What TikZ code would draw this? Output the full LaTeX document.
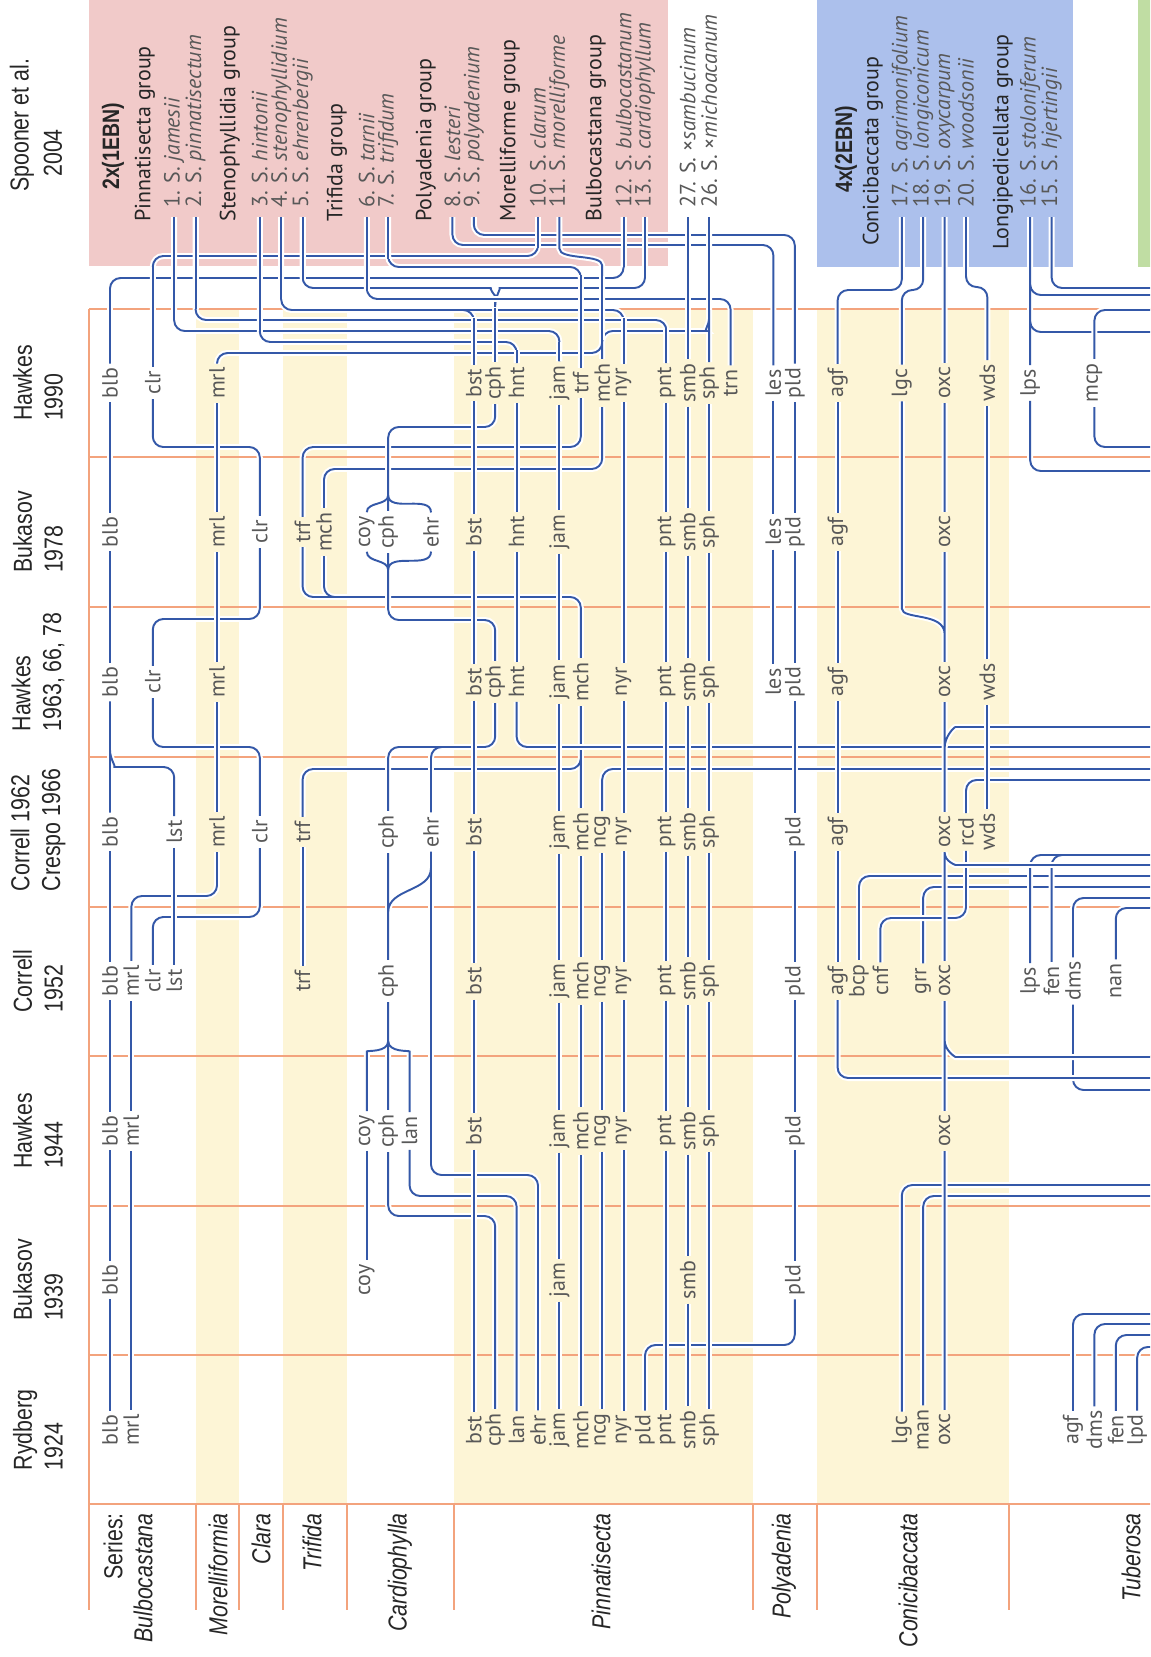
\documentclass[tikz,border=0pt]{standalone}
\usepackage{fontspec}
\setmainfont{PT Sans}
\newfontfamily\condfont[FakeStretch=0.82]{Liberation Sans}
\usetikzlibrary{calc}

\definecolor{linkblue}{RGB}{52,88,168}
\definecolor{rulecol}{RGB}{243,163,125}
\definecolor{bandfill}{RGB}{253,245,214}
\definecolor{pinkbox}{RGB}{241,202,201}
\definecolor{bluebox}{RGB}{172,192,236}
\definecolor{greenbox}{RGB}{192,221,163}
\definecolor{labgrey}{RGB}{88,88,88}
\definecolor{inkdark}{RGB}{38,38,38}

\newcommand{\xs}[1]{110+21.4*#1}
\newcommand{\labfont}{\fontsize{12.5}{14}\selectfont}
\newcommand{\headfont}{\condfont\fontsize{14.8}{17.5}\selectfont}

\begin{document}
\begin{tikzpicture}[x=0.02cm, y=-0.02cm,
    lab/.style={rotate=90, font=\labfont, text=labgrey, inner xsep=2.2pt, inner ysep=0.5pt},
    head/.style={rotate=90, font=\headfont, text=inkdark, align=left, inner sep=0pt},
    series/.style={rotate=90, font=\headfont\itshape, text=inkdark, anchor=east, inner sep=0pt},
    item/.style={rotate=90, font=\labfont, text=labgrey, anchor=west, inner xsep=5pt, inner ysep=0pt},
    grp/.style={rotate=90, font=\labfont, text=inkdark, anchor=west, inner sep=0pt},
    ebn/.style={rotate=90, font=\condfont\bfseries\fontsize{13.5}{16}\selectfont, text=inkdark, anchor=west, inner sep=0pt},
    link/.style={draw=linkblue, line width=1.1pt, rounded corners=6pt, preaction={draw=white, line width=3.4pt}},
    frameline/.style={draw=rulecol, line width=0.6pt},
  ]
  \useasboundingbox (0,0) rectangle (1150,1657);
  \fill[white] (0,0) rectangle (1150,1657);
  \clip (0,0) rectangle (1150,1657);

  % series columns and boxes
  \foreach \xa/\xb in {196/239,283/347,454/753,817/1009}
    \fill[bandfill] (\xa,309) rectangle (\xb,1504);
  \fill[pinkbox] (89,-5) rectangle (668,266);
  \fill[bluebox] (817,-5) rectangle (1073,267);
  \fill[greenbox] (1138,-5) rectangle (1160,267);
  \foreach \y in {309,457,607,757,907,1056,1206,1355,1504}
    \draw[frameline] (89,\y) -- (1160,\y);
  \draw[frameline] (89,309) -- (89,1610);
  \foreach \x in {196,239,283,347,454,753,817,1009}
    \draw[frameline] (\x,1504) -- (\x,1610);

  % treatments
  \node[head, anchor=west] (hspa) at (22,192) {Spooner et al.};
  \node[head, anchor=west] (hspb) at (53,177) {2004};
  \node[head] (hh90) at (38,383) {Hawkes\\1990};
  \node[head] (hb78) at (38,532) {Bukasov\\1978};
  \node[head] (hh63) at (38,672) {Hawkes\\1963, 66, 78};
  \node[head] (hc62) at (38,830) {Correll 1962\\Crespo 1966};
  \node[head] (hc52) at (38,981) {Correll\\1952};
  \node[head] (hh44) at (38,1131) {Hawkes\\1944};
  \node[head] (hb39) at (38,1280) {Bukasov\\1939};
  \node[head] (hr24) at (38,1430) {Rydberg\\1924};

  % series
  \node[series, font=\headfont] (ser) at (113,1513) {Series:};
  \node[series] (sblb) at (143,1513) {Bulbocastana};
  \node[series] (smrl) at (218,1513) {Morelliformia};
  \node[series] (sclr) at (261,1513) {Clara};
  \node[series] (strf) at (312,1513) {Trifida};
  \node[series] (scph) at (400,1513) {Cardiophylla};
  \node[series] (spnt) at (601,1513) {Pinnatisecta};
  \node[series] (spld) at (784,1513) {Polyadenia};
  \node[series] (scon) at (908,1513) {Conicibaccata};
  \node[series] (stbr) at (1131,1513) {Tuberosa};

  % Spooner et al. 2004
  \node[ebn] (ebn1) at (113,190) {2x(1EBN)};
  \node[grp] (gpin) at (145,222) {Pinnatisecta group};
  \node[item] (sp1) at (\xs{3},217) {1. S. \textit{jamesii}};
  \node[item] (sp2) at (\xs{4},217) {2. S. \textit{pinnatisectum}};
  \node[grp] (gste) at (230,222) {Stenophyllidia group};
  \node[item] (sp3) at (\xs{7},217) {3. S. \textit{hintonii}};
  \node[item] (sp4) at (\xs{8},217) {4. S. \textit{stenophyllidium}};
  \node[item] (sp5) at (\xs{9},217) {5. S. \textit{ehrenbergii}};
  \node[grp] (gtri) at (337,222) {Trifida group};
  \node[item] (sp6) at (\xs{12},217) {6. S. \textit{tarnii}};
  \node[item] (sp7) at (\xs{13},217) {7. S. \textit{trifidum}};
  \node[grp] (gpol) at (426,222) {Polyadenia group};
  \node[item] (sp8) at (\xs{16},217) {8. S. \textit{lesteri}};
  \node[item] (sp9) at (\xs{17},217) {9. S. \textit{polyadenium}};
  \node[grp] (gmor) at (510,222) {Morelliforme group};
  \node[item] (sp10) at (\xs{20},217) {10. S. \textit{clarum}};
  \node[item] (sp11) at (\xs{21},217) {11. S. \textit{morelliforme}};
  \node[grp] (gbul) at (596,222) {Bulbocastana group};
  \node[item] (sp12) at (\xs{24},217) {12. S. \textit{bulbocastanum}};
  \node[item] (sp13) at (\xs{25},217) {13. S. \textit{cardiophyllum}};
  \node[item] (sp27) at (\xs{27},217) {27. S. ×\textit{sambucinum}};
  \node[item] (sp26) at (\xs{28},217) {26. S. ×\textit{michoacanum}};
  \node[ebn] (ebn2) at (846,193) {4x(2EBN)};
  \node[grp] (gcon) at (873,246) {Conicibaccata group};
  \node[item] (sp17) at (\xs{37},217) {17. S. \textit{agrimonifolium}};
  \node[item] (sp18) at (\xs{38},217) {18. S. \textit{longiconicum}};
  \node[item] (sp19) at (\xs{39},217) {19. S. \textit{oxycarpum}};
  \node[item] (sp20) at (\xs{40},217) {20. S. \textit{woodsonii}};
  \node[grp] (glon) at (1003,250) {Longipedicellata group};
  \node[item] (sp16) at (\xs{43},217) {16. S. \textit{stoloniferum}};
  \node[item] (sp15) at (\xs{44},217) {15. S. \textit{hjertingii}};

  % species codes, one row of nodes per treatment
  \foreach \sn/\ab in {0/blb,2/clr,5/mrl,17/bst,18/cph,19/hnt,21/jam,22/trf,23/mch,24/nyr,26/pnt,27/smb,28/sph,29/trn,31/les,32/pld,34/agf,37/lgc,39/oxc,41/wds,43/lps,46/mcp}
    \node[lab] (h90\ab) at (\xs{\sn},383) {\ab};
  \foreach \sn/\ab in {0/blb,5/mrl,7/clr,9/trf,10/mch,12/coy,13/cph,15/ehr,17/bst,19/hnt,21/jam,26/pnt,27/smb,28/sph,31/les,32/pld,34/agf,39/oxc}
    \node[lab] (b78\ab) at (\xs{\sn},532) {\ab};
  \foreach \sn/\ab in {0/blb,2/clr,5/mrl,17/bst,18/cph,19/hnt,21/jam,22/mch,24/nyr,26/pnt,27/smb,28/sph,31/les,32/pld,34/agf,39/oxc,41/wds}
    \node[lab] (h63\ab) at (\xs{\sn},682) {\ab};
  \foreach \sn/\ab in {0/blb,3/lst,5/mrl,7/clr,9/trf,13/cph,15/ehr,17/bst,21/jam,22/mch,23/ncg,24/nyr,26/pnt,27/smb,28/sph,32/pld,34/agf,39/oxc,40/rcd,41/wds}
    \node[lab] (c62\ab) at (\xs{\sn},832) {\ab};
  \foreach \sn/\ab in {0/blb,1/mrl,2/clr,3/lst,9/trf,13/cph,17/bst,21/jam,22/mch,23/ncg,24/nyr,26/pnt,27/smb,28/sph,32/pld,34/agf,35/bcp,36/cnf,38/grr,39/oxc,43/lps,44/fen,45/dms,47/nan}
    \node[lab] (c52\ab) at (\xs{\sn},981) {\ab};
  \foreach \sn/\ab in {0/blb,1/mrl,12/coy,13/cph,14/lan,17/bst,21/jam,22/mch,23/ncg,24/nyr,26/pnt,27/smb,28/sph,32/pld,39/oxc}
    \node[lab] (h44\ab) at (\xs{\sn},1131) {\ab};
  \foreach \sn/\ab in {0/blb,12/coy,21/jam,27/smb,32/pld}
    \node[lab] (b39\ab) at (\xs{\sn},1280) {\ab};
  \foreach \sn/\ab in {0/blb,1/mrl,17/bst,18/cph,19/lan,20/ehr,21/jam,22/mch,23/ncg,24/nyr,25/pld,26/pnt,27/smb,28/sph,37/lgc,38/man,39/oxc,45/agf,46/dms,47/fen,48/lpd}
    \node[lab] (r24\ab) at (\xs{\sn},1430) {\ab};

  % Spooner 2004 -- Hawkes 1990
  \draw[link] (sp12.west) |- (\xs{0},278) -- (h90blb.east);
  \draw[link] (sp10.west) |- (\xs{2},256) -- (h90clr.east);
  \draw[link] (sp9.west) |- (\xs{32},235) -- (h90pld.east);
  \draw[link] (sp8.west) |- (\xs{31},245) -- (h90les.east);
  \draw[link] (sp7.west) |- (\xs{22},267) -- (h90trf.east);
  \draw[link] (sp5.west) |- (\xs{17.3},288) to[out=0,in=90] (\xs{18},306) -- (h90cph.east)
              (sp13.west) |- (\xs{18.7},288) to[out=180,in=90] (\xs{18},306);
  \draw[link] (sp6.west) |- (\xs{29},299) -- (h90trn.east);
  \draw[link] (sp4.west) |- (\xs{17},310) -- (h90bst.east)
              (sp4.west) |- (\xs{24},310) -- (h90nyr.east);
  \draw[link] (sp2.west) |- (\xs{26},320) -- (h90pnt.east);
  \draw[link] (sp1.west) |- (\xs{21},331) -- (h90jam.east);
  \draw[link] (sp3.west) |- (\xs{19},342) -- (h90hnt.east);
  \draw[link] (sp11.west) -- (\xs{21},238) to[out=-90,in=90] (\xs{23},276) |- (\xs{5},353) -- (h90mrl.east)
              (sp26.west) -- (h90sph.east)
              (h90mch.east) |- (\xs{27.4},331) to[out=0,in=-90] (\xs{28},318);
  \draw[link] (sp17.west) |- (\xs{34},290) -- (h90agf.east);
  \draw[link] (sp18.west) |- (\xs{37},290) -- (h90lgc.east);
  \draw[link] (sp20.west) |- (\xs{41},287) -- (h90wds.east);
  \draw[link] (sp15.west) |- (1160,288);
  \draw[link] (sp16.west) -- (h90lps.east)
              (\xs{43},282) |- (1160,295) (\xs{43},318) |- (1160,332);
  \draw[link] (h90mcp.east) |- (1160,310);
  % vertical runs kept on top of the tracks they cross
  \foreach \nd/\sn/\yb in {sp1/3/320,sp2/4/309,sp3/7/331,sp4/8/299,sp5/9/280,sp6/12/291,
      sp7/13/259,sp10/20/248,sp12/24/267,sp13/25/277,sp26/28/310}
    \draw[link] (\nd.west) -- (\xs{\sn},\yb);
  \foreach \ab/\sn/\ya in {clr/2/267,bst/17/318,cph/18/308,hnt/19/350,jam/21/342,
      trf/22/275,nyr/24/318,pnt/26/328}
    \draw[link] (\xs{\sn},\ya) -- (h90\ab.east);
  \draw[link] (\xs{23},276) -- (\xs{23},340);
  \draw[link] (sp27.west) -- (h90smb.east);

  % Hawkes 1990 -- Bukasov 1978
  \draw[link] (h90clr.west) |- (\xs{7},447) -- (b78clr.east);
  \draw[link] (h90trf.west) |- (\xs{9},447) -- (b78trf.east);
  \draw[link] (h90mch.west) |- (\xs{10},469) -- (b78mch.east);
  \draw[link] (h90cph.west) |- (\xs{13},427) -- (\xs{13},495)
              (b78cph.east) -- (\xs{13},495)
              (b78coy.east) to[out=90,in=-90] (\xs{13},495)
              (b78ehr.east) to[out=90,in=-90] (\xs{13},495);
  \draw[link] (h90lps.west) |- (1160,471);
  \draw[link] (h90mcp.west) |- (1160,447);

  % Bukasov 1978 -- Hawkes 1963
  \draw[link] (b78clr.west) |- (\xs{2},619) -- (h63clr.east);
  \draw[link] (b78trf.west) |- (\xs{22},597) -- (h63mch.east)
              (b78mch.west) |- (\xs{21},597);
  \draw[link] (b78cph.west) -- (\xs{13},570)
              (b78coy.west) to[out=-90,in=90] (\xs{13},570)
              (b78ehr.west) to[out=-90,in=90] (\xs{13},570)
              (\xs{13},570) |- (\xs{18},620) -- (h63cph.east);

  % Hawkes 1963 -- Correll 1962
  \draw[link] (h63blb.west) -- (c62blb.east)
              (c62lst.east) |- (\xs{0.7},767) to[out=180,in=-90] (\xs{0},750);
  \draw[link] (h63clr.west) |- (\xs{7},747) -- (c62clr.east);
  \draw[link] (h63mch.west) -- (c62mch.east)
              (h63mch.west) |- (\xs{9},769) -- (c62trf.east);
  \draw[link] (c62cph.east) |- (\xs{18},747) -- (h63cph.west)
              (c62ehr.east) |- (\xs{17},747);
  \draw[link] (h63hnt.west) |- (1160,747);
  \draw[link] (c62ncg.east) |- (1160,769);
  \draw[link] (c62rcd.east) |- (1160,780);

  % Correll 1962 -- Correll 1952
  \draw[link] (c62mrl.west) |- (\xs{1},896) -- (c52mrl.east);
  \draw[link] (c62clr.west) |- (\xs{2},917) -- (c52clr.east);
  \draw[link] (c62cph.west) -- (c52cph.east)
              (c62ehr.west) |- (\xs{20},1175) -- (r24ehr.east)
              (\xs{15},868) to[out=-90,in=90] (\xs{13},912);
  \draw[link] (c52bcp.east) |- (1160,876);
  \draw[link] (c52grr.east) |- (1160,887);
  \draw[link] (c52lps.east) |- (1160,855) (c52fen.east) |- (1160,855);
  \draw[link] (c52dms.east) |- (1160,898) (c52dms.west) |- (1160,1090);
  \draw[link] (c52nan.east) |- (1160,908);
  \draw[link] (c62rcd.west) |- (\xs{36},918) -- (c52cnf.east);

  % Correll 1952 -- Hawkes 1944 -- Rydberg 1924
  \draw[link] (c52cph.west) -- (h44cph.east)
              (h44coy.east) -- (\xs{12},1062) to[out=90,in=-90] (\xs{13},1041)
              (h44lan.east) -- (\xs{14},1062) to[out=90,in=-90] (\xs{13},1041);
  \draw[link] (c52agf.west) |- (1160,1078);
  \draw[link] (h44cph.west) |- (\xs{18},1216) -- (r24cph.east);
  \draw[link] (h44lan.west) |- (\xs{19},1196) -- (r24lan.east);
  \draw[link] (b39pld.west) |- (\xs{25},1345) -- (r24pld.east);
  \draw[link] (r24lgc.east) |- (1160,1185);
  \draw[link] (r24man.east) |- (1160,1196);
  \foreach \ab/\yy in {agf/1314,dms/1324,fen/1335,lpd/1347}
    \draw[link] (r24\ab.east) |- (1160,\yy);

  % oxycarpum line with its side branches
  \draw[link] (sp19.west) -- (h90oxc.east)
              (h90oxc.west) -- (b78oxc.east) (b78oxc.west) -- (h63oxc.east)
              (h90lgc.west) -- (\xs{37},598) to[out=-90,in=90] (\xs{39},634)
              (h63oxc.west) -- (c62oxc.east) (\xs{39},748) to[out=90,in=180] (\xs{40},727) -- (1160,727)
              (c62oxc.west) -- (c52oxc.east) (c62oxc.west) to[out=-90,in=180] (\xs{40},865) -- (1160,865)
              (c52oxc.west) -- (h44oxc.east) (\xs{39},1040) to[out=-90,in=180] (\xs{40},1057) -- (1160,1057)
              (h44oxc.west) -- (r24oxc.east);

  % unchanged names
  \foreach \ab/\ta/\tb in {
      blb/h90/b78, blb/b78/h63, blb/c62/c52, blb/c52/h44, blb/h44/b39, blb/b39/r24,
      mrl/h90/b78, mrl/b78/h63, mrl/h63/c62, mrl/c52/h44, mrl/h44/r24,
      lst/c62/c52, trf/c62/c52, coy/h44/b39,
      bst/h90/b78, bst/b78/h63, bst/h63/c62, bst/c62/c52, bst/c52/h44, bst/h44/r24,
      hnt/h90/b78, hnt/b78/h63,
      jam/h90/b78, jam/b78/h63, jam/h63/c62, jam/c62/c52, jam/c52/h44, jam/h44/b39, jam/b39/r24,
      mch/c62/c52, mch/c52/h44, mch/h44/r24,
      ncg/c62/c52, ncg/c52/h44, ncg/h44/r24,
      nyr/h90/h63, nyr/h63/c62, nyr/c62/c52, nyr/c52/h44, nyr/h44/r24,
      pnt/h90/b78, pnt/b78/h63, pnt/h63/c62, pnt/c62/c52, pnt/c52/h44, pnt/h44/r24,
      smb/h90/b78, smb/b78/h63, smb/h63/c62, smb/c62/c52, smb/c52/h44, smb/h44/b39, smb/b39/r24,
      sph/h90/b78, sph/b78/h63, sph/h63/c62, sph/c62/c52, sph/c52/h44, sph/h44/r24,
      les/h90/b78, les/b78/h63,
      pld/h90/b78, pld/b78/h63, pld/h63/c62, pld/c62/c52, pld/c52/h44, pld/h44/b39,
      agf/h90/b78, agf/b78/h63, agf/h63/c62, agf/c62/c52,
      wds/h90/h63, wds/h63/c62}
    \draw[link] (\ta\ab.west) -- (\tb\ab.east);
\end{tikzpicture}
\end{document}
